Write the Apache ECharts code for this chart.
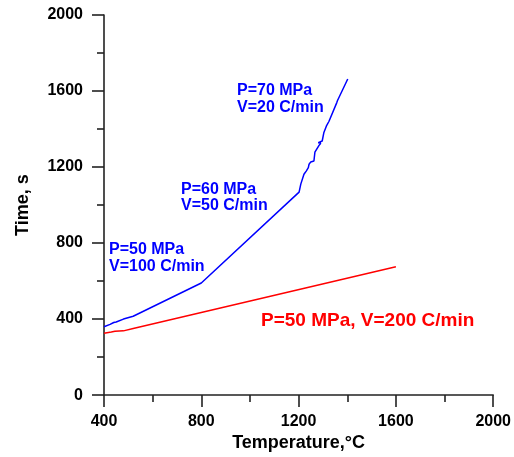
<!DOCTYPE html>
<html>
<head>
<meta charset="utf-8">
<script src="https://cdn.jsdelivr.net/npm/echarts@6/dist/echarts.min.js"></script>
<style>html,body{margin:0;padding:0;background:#fff;}#c{width:514px;height:457px;}</style>
</head>
<body>
<div id="c"></div>
<script>
// Temperature (°C) and Time (s) for each run
const blueTemp = [400,425,440,433,450,480,520,800,1202,1209,1222,1232,1227,1240,1243,1250,1263,1256,1267,1284,1291,1281,1297,1304,1314,1325,1357,1355,1360,1402];
const blueTime = [360,372,382,378,385,400,415,590,1068,1110,1162,1180,1189,1197,1215,1227,1232,1241,1278,1314,1325,1328,1337,1382,1415,1441,1539,1545,1550,1663];
const redTemp = [400,430,445,440,480,520,1600];
const redTime = [326,332,336,333,338,350,675];
const xTicks = [400, 800, 1200, 1600, 2000];
const yTicks = [0, 400, 800, 1200, 1600, 2000];
const blueLabels = [
  {lines: ['P=50 MPa', 'V=100 C/min'], left: 109, y: 250},
  {lines: ['P=60 MPa', 'V=50 C/min'], left: 181, y: 189.5},
  {lines: ['P=70 MPa', 'V=20 C/min'], left: 237, y: 91}
];
const redLabel = 'P=50 MPa, V=200 C/min';

const zip = (a, b) => a.map((v, i) => [v, b[i]]);
const FONT = 'Liberation Sans, Arial, sans-serif';
const chart = echarts.init(document.getElementById('c'));
const axisCommon = {
  axisLine: {onZero: false, lineStyle: {color: '#222', width: 1.6}},
  axisTick: {inside: false, length: 12, lineStyle: {color: '#222', width: 1.6}},
  minorTick: {show: true, splitNumber: 2, length: 7, lineStyle: {color: '#222', width: 1.6}},
  splitLine: {show: false},
  axisLabel: {color: '#000', fontFamily: FONT, fontWeight: 'bold', fontSize: 16},
  nameTextStyle: {color: '#000', fontFamily: FONT, fontWeight: 'bold', fontSize: 18}
};
const graphics = [];
blueLabels.forEach(l => {
  l.lines.forEach((t, i) => {
    graphics.push({type: 'text', left: l.left, top: l.y + i * 16.5 - 8,
      style: {text: t, fill: '#0000ff', font: 'bold 16px ' + FONT}});
  });
});
graphics.push({type: 'text', left: 261, top: 311, style: {text: redLabel, fill: '#ff0000', font: 'bold 19px ' + FONT}});

chart.setOption({
  animation: false,
  grid: {left: 104, right: 19, top: 15, bottom: 60},
  xAxis: Object.assign({}, axisCommon, {
    type: 'value', min: 400, max: 2000, interval: 400,
    name: 'Temperature,°C', nameLocation: 'middle', nameGap: 35,
    axisLabel: Object.assign({}, axisCommon.axisLabel, {margin: 18, formatter: v => xTicks.includes(v) ? String(v) : ''})
  }),
  yAxis: Object.assign({}, axisCommon, {
    type: 'value', min: 0, max: 2000, interval: 400,
    name: 'Time, s', nameLocation: 'middle', nameGap: 72,
    axisLabel: Object.assign({}, axisCommon.axisLabel, {margin: 21, formatter: v => yTicks.includes(v) ? String(v) : ''})
  }),
  series: [
    {type: 'line', data: zip(blueTemp, blueTime), showSymbol: false, symbol: 'none', lineStyle: {color: '#0000ff', width: 1.5}},
    {type: 'line', data: zip(redTemp, redTime), showSymbol: false, symbol: 'none', lineStyle: {color: '#ff0000', width: 1.5}}
  ],
  graphic: graphics
});
</script>
</body>
</html>
